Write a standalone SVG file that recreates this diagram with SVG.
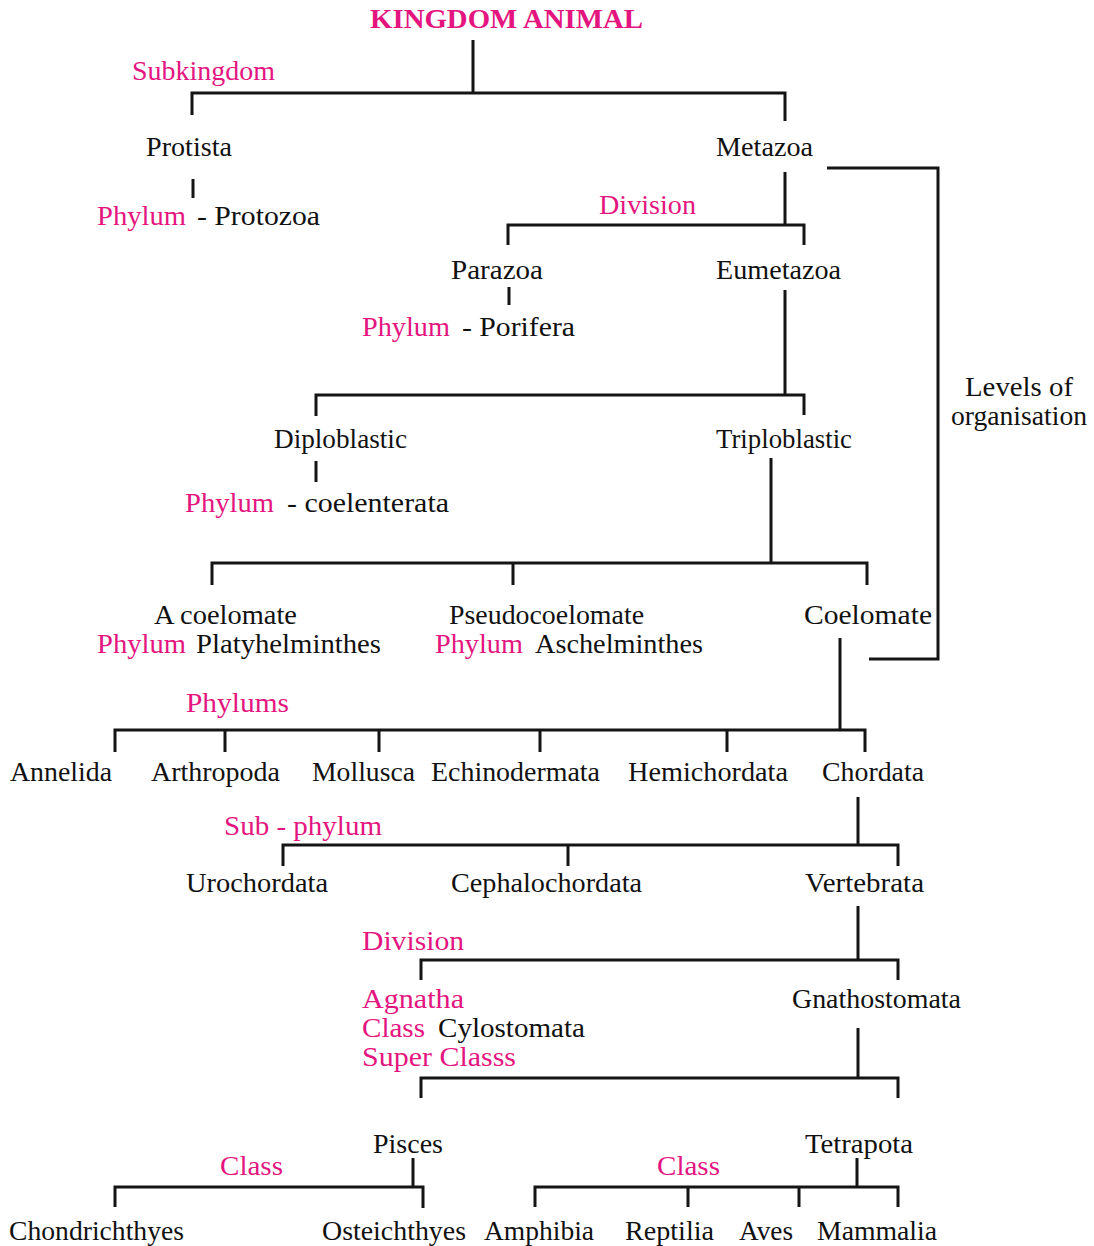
<svg xmlns="http://www.w3.org/2000/svg" width="1094" height="1246" viewBox="0 0 1094 1246">
<style>
text{font-family:"Liberation Serif","Times New Roman",Times,serif;font-size:27px;fill:#111}
.p{fill:#e4157f}
.b{font-weight:bold}
.c path{stroke:#141414;stroke-width:3;fill:none}
</style>
<rect width="1094" height="1246" fill="#fff"/>
<g class="c" id="connectors">
<path d="M473 40V93M192 115V93H785V121"/>
<path d="M193 179V198"/>
<path d="M785 172V225M508 245V225H804V245"/>
<path d="M509 287V305"/>
<path d="M785 290V395M316 416V395H804V415"/>
<path d="M316 461V482"/>
<path d="M771 458V563M212 585V563H867V585M513 563V585"/>
<path d="M827 168H938V659H869"/>
<path d="M840 638V730M115 752V730H865V752M225 730V752M379 730V752M540 730V752M727 730V752"/>
<path d="M858 797V845M283 866V845H898V866M568 845V866"/>
<path d="M858 906V960M421 980V960H898V980"/>
<path d="M858 1028V1078M421 1098V1078H898V1098"/>
<path d="M413 1158V1187M115 1207V1187H423V1208"/>
<path d="M857 1158V1187M535 1207V1187H898V1207M688 1187V1207M799 1187V1207"/>
</g>
<g id="kingdom"><text class="p b" x="370" y="28" textLength="273" lengthAdjust="spacingAndGlyphs">KINGDOM ANIMAL</text></g>
<g id="lbl-subkingdom"><text class="p" x="132" y="80" textLength="143" lengthAdjust="spacingAndGlyphs">Subkingdom</text></g>
<g id="protista"><text x="146" y="156" textLength="86" lengthAdjust="spacingAndGlyphs">Protista</text></g>
<g id="metazoa"><text x="716" y="156" textLength="97" lengthAdjust="spacingAndGlyphs">Metazoa</text></g>
<g id="protozoa"><text class="p" x="97" y="225" textLength="89" lengthAdjust="spacingAndGlyphs">Phylum</text><text x="197" y="225" textLength="123" lengthAdjust="spacingAndGlyphs">-  Protozoa</text></g>
<g id="lbl-division1"><text class="p" x="599" y="214" textLength="97" lengthAdjust="spacingAndGlyphs">Division</text></g>
<g id="parazoa"><text x="451" y="279" textLength="92" lengthAdjust="spacingAndGlyphs">Parazoa</text></g>
<g id="eumetazoa"><text x="716" y="279" textLength="125" lengthAdjust="spacingAndGlyphs">Eumetazoa</text></g>
<g id="porifera"><text class="p" x="362" y="336" textLength="88" lengthAdjust="spacingAndGlyphs">Phylum</text><text x="462" y="336" textLength="113" lengthAdjust="spacingAndGlyphs">-  Porifera</text></g>
<g id="diploblastic"><text x="274" y="448" textLength="133" lengthAdjust="spacingAndGlyphs">Diploblastic</text></g>
<g id="triploblastic"><text x="716" y="448" textLength="136" lengthAdjust="spacingAndGlyphs">Triploblastic</text></g>
<g id="coelenterata"><text class="p" x="185" y="512" textLength="89" lengthAdjust="spacingAndGlyphs">Phylum</text><text x="287" y="512" textLength="162" lengthAdjust="spacingAndGlyphs">-  coelenterata</text></g>
<g id="acoelomate"><text x="154" y="624" textLength="143" lengthAdjust="spacingAndGlyphs">A coelomate</text><text class="p" x="97" y="653" textLength="89" lengthAdjust="spacingAndGlyphs">Phylum</text><text x="196" y="653" textLength="185" lengthAdjust="spacingAndGlyphs">Platyhelminthes</text></g>
<g id="pseudocoelomate"><text x="449" y="624" textLength="195" lengthAdjust="spacingAndGlyphs">Pseudocoelomate</text><text class="p" x="435" y="653" textLength="88" lengthAdjust="spacingAndGlyphs">Phylum</text><text x="535" y="653" textLength="168" lengthAdjust="spacingAndGlyphs">Aschelminthes</text></g>
<g id="coelomate"><text x="804" y="624" textLength="128" lengthAdjust="spacingAndGlyphs">Coelomate</text></g>
<g id="levels"><text x="965" y="396" textLength="108" lengthAdjust="spacingAndGlyphs">Levels of</text><text x="951" y="425" textLength="136" lengthAdjust="spacingAndGlyphs">organisation</text></g>
<g id="lbl-phylums"><text class="p" x="186" y="712" textLength="103" lengthAdjust="spacingAndGlyphs">Phylums</text></g>
<g id="annelida"><text x="10" y="781" textLength="102" lengthAdjust="spacingAndGlyphs">Annelida</text></g>
<g id="arthropoda"><text x="151" y="781" textLength="129" lengthAdjust="spacingAndGlyphs">Arthropoda</text></g>
<g id="mollusca"><text x="312" y="781" textLength="103" lengthAdjust="spacingAndGlyphs">Mollusca</text></g>
<g id="echinodermata"><text x="431" y="781" textLength="169" lengthAdjust="spacingAndGlyphs">Echinodermata</text></g>
<g id="hemichordata"><text x="628" y="781" textLength="160" lengthAdjust="spacingAndGlyphs">Hemichordata</text></g>
<g id="chordata"><text x="822" y="781" textLength="102" lengthAdjust="spacingAndGlyphs">Chordata</text></g>
<g id="lbl-subphylum"><text class="p" x="224" y="835" textLength="158" lengthAdjust="spacingAndGlyphs">Sub - phylum</text></g>
<g id="urochordata"><text x="186" y="892" textLength="142" lengthAdjust="spacingAndGlyphs">Urochordata</text></g>
<g id="cephalochordata"><text x="451" y="892" textLength="191" lengthAdjust="spacingAndGlyphs">Cephalochordata</text></g>
<g id="vertebrata"><text x="805" y="892" textLength="119" lengthAdjust="spacingAndGlyphs">Vertebrata</text></g>
<g id="lbl-division2"><text class="p" x="362" y="950" textLength="102" lengthAdjust="spacingAndGlyphs">Division</text></g>
<g id="agnatha"><text class="p" x="362" y="1008" textLength="102" lengthAdjust="spacingAndGlyphs">Agnatha</text><text class="p" x="362" y="1037" textLength="63" lengthAdjust="spacingAndGlyphs">Class</text><text x="438" y="1037" textLength="147" lengthAdjust="spacingAndGlyphs">Cylostomata</text><text class="p" x="362" y="1066" textLength="154" lengthAdjust="spacingAndGlyphs">Super  Classs</text></g>
<g id="gnathostomata"><text x="792" y="1008" textLength="169" lengthAdjust="spacingAndGlyphs">Gnathostomata</text></g>
<g id="pisces"><text x="373" y="1153" textLength="70" lengthAdjust="spacingAndGlyphs">Pisces</text></g>
<g id="tetrapota"><text x="805" y="1153" textLength="108" lengthAdjust="spacingAndGlyphs">Tetrapota</text></g>
<g id="lbl-class1"><text class="p" x="220" y="1175" textLength="63" lengthAdjust="spacingAndGlyphs">Class</text></g>
<g id="lbl-class2"><text class="p" x="657" y="1175" textLength="63" lengthAdjust="spacingAndGlyphs">Class</text></g>
<g id="chondrichthyes"><text x="9" y="1240" textLength="175" lengthAdjust="spacingAndGlyphs">Chondrichthyes</text></g>
<g id="osteichthyes"><text x="322" y="1240" textLength="144" lengthAdjust="spacingAndGlyphs">Osteichthyes</text></g>
<g id="amphibia"><text x="484" y="1240" textLength="110" lengthAdjust="spacingAndGlyphs">Amphibia</text></g>
<g id="reptilia"><text x="625" y="1240" textLength="89" lengthAdjust="spacingAndGlyphs">Reptilia</text></g>
<g id="aves"><text x="739" y="1240" textLength="54" lengthAdjust="spacingAndGlyphs">Aves</text></g>
<g id="mammalia"><text x="817" y="1240" textLength="120" lengthAdjust="spacingAndGlyphs">Mammalia</text></g>
</svg>
